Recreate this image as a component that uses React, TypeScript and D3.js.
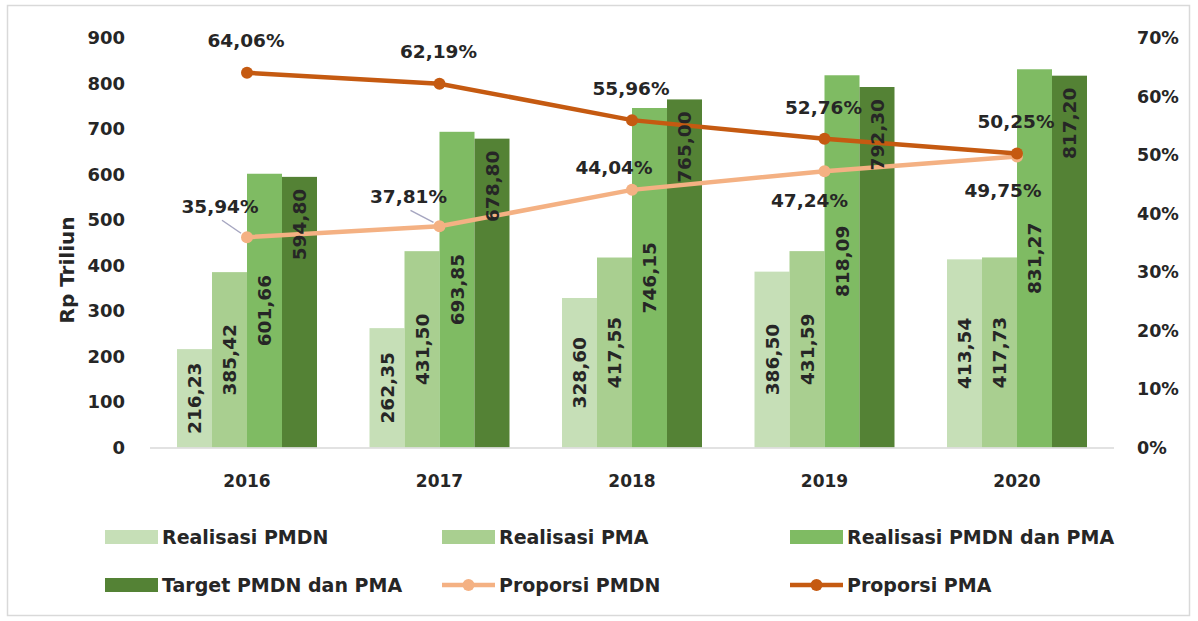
import React from "react";
import * as d3 from "d3";

const years = ["2016", "2017", "2018", "2019", "2020"];
const realisasiPMDN = [216.23, 262.35, 328.6, 386.5, 413.54];
const realisasiPMA = [385.42, 431.5, 417.55, 431.59, 417.73];
const realisasiTotal = [601.66, 693.85, 746.15, 818.09, 831.27];
const targetTotal = [594.8, 678.8, 765.0, 792.3, 817.2];
const proporsiPMDN = [35.94, 37.81, 44.04, 47.24, 49.75];
const proporsiPMA = [64.06, 62.19, 55.96, 52.76, 50.25];
const leftTicks = [0, 100, 200, 300, 400, 500, 600, 700, 800, 900];
const rightTicks = [0, 10, 20, 30, 40, 50, 60, 70];

const barSeries = [
  { name: "Realisasi PMDN", values: realisasiPMDN, color: "#c6dfb7" },
  { name: "Realisasi PMA", values: realisasiPMA, color: "#a9cf90" },
  { name: "Realisasi PMDN dan PMA", values: realisasiTotal, color: "#7fbb63" },
  { name: "Target PMDN dan PMA", values: targetTotal, color: "#548235" },
];

// label offsets (layout only)
const pmdnLabelOffsets = [
  [-27, -31],
  [-31, -30],
  [-18, -23],
  [-15, 29],
  [-14, 34],
];

const FONT = "'DejaVu Sans', sans-serif";
const TXT = "#262626";

const fmt = (v: number) => v.toFixed(2).replace(".", ",");

export default function App() {
  const W = 1198;
  const H = 621;
  const x0 = d3.scaleBand<string>().domain(years).range([150.75, 1113.25]).padding(0);
  const groupW = 140;
  const x1 = d3
    .scaleBand<number>()
    .domain([0, 1, 2, 3])
    .range([(x0.bandwidth() - groupW) / 2, (x0.bandwidth() + groupW) / 2])
    .padding(0);
  const y = d3.scaleLinear().domain([0, 900]).range([447.5, 38]);
  const yR = d3.scaleLinear().domain([0, 70]).range([447.5, 38]);
  const cx = (i: number) => (x0(years[i]) as number) + x0.bandwidth() / 2;

  const line = d3
    .line<number>()
    .x((_, i) => cx(i))
    .y((d) => yR(d));

  const legendItems = [
    { name: "Realisasi PMDN", type: "bar", color: barSeries[0].color, x: 105, y: 537 },
    { name: "Realisasi PMA", type: "bar", color: barSeries[1].color, x: 442, y: 537 },
    { name: "Realisasi PMDN dan PMA", type: "bar", color: barSeries[2].color, x: 790, y: 537 },
    { name: "Target PMDN dan PMA", type: "bar", color: barSeries[3].color, x: 105, y: 585 },
    { name: "Proporsi PMDN", type: "line", color: "#f4b183", x: 442, y: 585 },
    { name: "Proporsi PMA", type: "line", color: "#c55a11", x: 790, y: 585 },
  ];

  return (
    <svg
      width={W}
      height={H}
      style={{ position: "absolute", left: 0, top: 0, background: "#fff" }}
      fontFamily={FONT}
    >
      <rect x={0} y={0} width={W} height={H} fill="#fff" />
      <rect x={7.5} y={5.5} width={1182} height={610} fill="none" stroke="#d9d9d9" strokeWidth={1.5} />

      {/* left ticks */}
      {leftTicks.map((t) => (
        <text key={"l" + t} x={125} y={y(t)} dy="0.36em" textAnchor="end" fontSize={18} fontWeight="bold" fill={TXT}>
          {t}
        </text>
      ))}
      {/* right ticks */}
      {rightTicks.map((t) => (
        <text key={"r" + t} x={1137} y={yR(t)} dy="0.36em" textAnchor="start" fontSize={17.5} fontWeight="bold" fill={TXT}>
          {t + "%"}
        </text>
      ))}
      <text
        transform={`translate(67,270) rotate(-90)`}
        textAnchor="middle"
        dy="0.36em"
        fontSize={20}
        fontWeight="bold"
        fill={TXT}
      >
        Rp Triliun
      </text>

      {/* bars */}
      {barSeries.map((s, si) =>
        s.values.map((v, i) => (
          <rect
            key={si + "-" + i}
            x={(x0(years[i]) as number) + (x1(si) as number)}
            y={y(v)}
            width={x1.bandwidth()}
            height={y(0) - y(v)}
            fill={s.color}
          />
        ))
      )}
      <line x1={150} x2={1114} y1={448} y2={448} stroke="#d9d9d9" strokeWidth={1.5} />

      {/* year labels */}
      {years.map((yr, i) => (
        <text key={yr} x={cx(i)} y={481} dy="0.36em" textAnchor="middle" fontSize={17} fontWeight="bold" fill={TXT}>
          {yr}
        </text>
      ))}

      {/* lines */}
      <path d={line(proporsiPMDN) as string} fill="none" stroke="#f4b183" strokeWidth={4.5} />
      {proporsiPMDN.map((v, i) => (
        <circle key={"pd" + i} cx={cx(i)} cy={yR(v)} r={6} fill="#f4b183" />
      ))}
      <path d={line(proporsiPMA) as string} fill="none" stroke="#c55a11" strokeWidth={4.5} />
      {proporsiPMA.map((v, i) => (
        <circle key={"pa" + i} cx={cx(i)} cy={yR(v)} r={6} fill="#c55a11" />
      ))}

      {/* leader lines */}
      {[0, 1].map((i) => {
        const lx = cx(i) + pmdnLabelOffsets[i][0];
        const ly = yR(proporsiPMDN[i]) + pmdnLabelOffsets[i][1];
        return (
          <line
            key={"ld" + i}
            x1={lx + 2}
            y1={ly + 14}
            x2={cx(i) - 6}
            y2={yR(proporsiPMDN[i]) - 4}
            stroke="#a6a6c0"
            strokeWidth={1.5}
          />
        );
      })}

      {/* bar labels */}
      {barSeries.map((s, si) =>
        s.values.map((v, i) => {
          const bx = (x0(years[i]) as number) + (x1(si) as number) + x1.bandwidth() / 2;
          if (si < 3) {
            const by = (y(v) + y(0)) / 2;
            return (
              <text
                key={"bl" + si + i}
                transform={`translate(${bx},${by}) rotate(-90)`}
                textAnchor="middle"
                dy="0.36em"
                fontSize={18.5}
                fontWeight="bold"
                fill={TXT}
              >
                {fmt(v)}
              </text>
            );
          }
          return (
            <text
              key={"bl" + si + i}
              transform={`translate(${bx},${y(v) + 12}) rotate(-90)`}
              textAnchor="end"
              dy="0.36em"
              fontSize={18.5}
              fontWeight="bold"
              fill={TXT}
            >
              {fmt(v)}
            </text>
          );
        })
      )}

      {/* percent labels */}
      {proporsiPMA.map((v, i) => (
        <text
          key={"pal" + i}
          x={cx(i) - 1}
          y={yR(v) - 32}
          dy="0.36em"
          textAnchor="middle"
          fontSize={18.5}
          fontWeight="bold"
          fill={TXT}
        >
          {fmt(v) + "%"}
        </text>
      ))}
      {proporsiPMDN.map((v, i) => (
        <text
          key={"pdl" + i}
          x={cx(i) + pmdnLabelOffsets[i][0]}
          y={yR(v) + pmdnLabelOffsets[i][1]}
          dy="0.36em"
          textAnchor="middle"
          fontSize={18.5}
          fontWeight="bold"
          fill={TXT}
        >
          {fmt(v) + "%"}
        </text>
      ))}

      {/* legend */}
      {legendItems.map((it) => (
        <g key={it.name}>
          {it.type === "bar" ? (
            <rect x={it.x} y={it.y - 7} width={53} height={14} fill={it.color} />
          ) : (
            <g>
              <line x1={it.x} x2={it.x + 53} y1={it.y} y2={it.y} stroke={it.color} strokeWidth={4.5} />
              <circle cx={it.x + 26.5} cy={it.y} r={6} fill={it.color} />
            </g>
          )}
          <text x={it.x + 57} y={it.y} dy="0.36em" fontSize={19} fontWeight="bold" fill={TXT}>
            {it.name}
          </text>
        </g>
      ))}
    </svg>
  );
}
